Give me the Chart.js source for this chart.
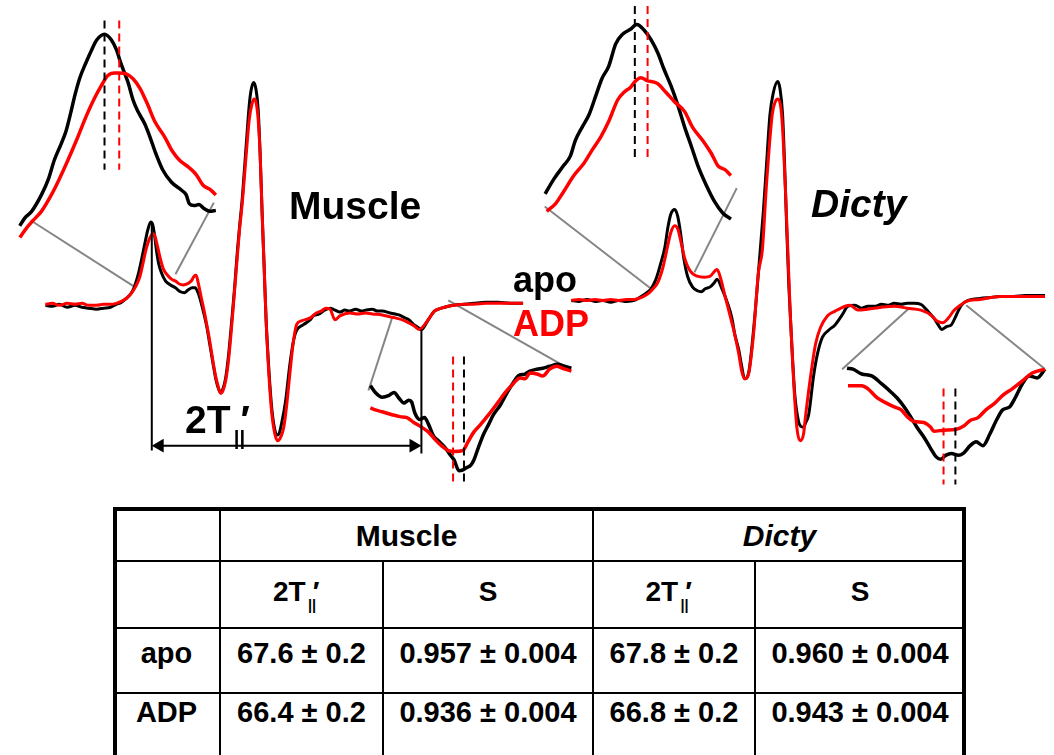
<!DOCTYPE html>
<html>
<head>
<meta charset="utf-8">
<script src="https://cdn.jsdelivr.net/npm/chart.js@4/dist/chart.umd.min.js"></script>
<style>
  html, body { margin: 0; padding: 0; background: #fff; overflow: hidden; width: 1054px; height: 755px; }
  body { position: relative; font-family: "Liberation Sans", Arial, Helvetica, sans-serif; font-weight: bold; color: #000; }
  #spectra { position: absolute; left: 0; top: 0; }
  .lbl { position: absolute; line-height: 1; white-space: nowrap; }
  .rule { position: absolute; background: #000; }
</style>
</head>
<body>
<canvas id="spectra" width="1054" height="505"></canvas>
<div id="overlay"></div>
<script>
// ---- EPR spectra (field offset in G, signal in arbitrary units) ----
// Muscle myosin, full scan
const muscleApo = [[-26.67,-2],[-24.94,-3],[-23.21,-1],[-21.23,-4],[-19.26,-2],[-17.53,-4],[-15.80,-5],[-13.83,-6],[-12.10,-5],[-10.37,-4],[-8.89,-1],[-7.65,1],[-6.42,5],[-5.43,9],[-4.69,14],[-3.95,22],[-3.21,33],[-2.47,47],[-1.73,62],[-0.99,76],[-0.25,84],[0.25,81],[0.74,69],[1.23,53],[1.73,41],[2.47,31],[3.46,23],[4.69,19],[5.93,16],[7.16,12],[8.15,11],[9.14,14],[10.12,16],[10.86,16],[11.60,11],[12.35,1],[13.09,-11],[13.83,-25],[14.57,-43],[15.31,-61],[16.05,-78],[16.79,-89],[17.28,-92],[17.78,-89],[18.52,-77],[19.26,-53],[20.00,-20],[20.74,15],[21.48,55],[21.98,78],[22.72,110],[23.70,165],[24.44,205],[24.94,221],[25.56,228],[26.17,220],[26.67,200],[27.16,155],[27.65,95],[28.15,40],[28.64,-15],[29.38,-70],[30.12,-110],[30.86,-131],[31.36,-136],[31.85,-135],[32.59,-123],[33.58,-100],[34.57,-65],[35.56,-38],[36.30,-28],[38.02,-22],[39.75,-17],[40.49,-13],[41.98,-11],[42.96,-8],[44.69,-5],[45.93,-7],[47.16,-9],[48.40,-7],[49.63,-8],[51.11,-6],[52.59,-8],[53.58,-7],[55.31,-6],[56.54,-8],[57.78,-8],[59.75,-10],[60.99,-11],[61.98,-12],[63.46,-15],[64.44,-17],[65.68,-22],[66.42,-24],[67.65,-27],[68.89,-20],[69.63,-15],[70.86,-8],[72.59,-5],[74.32,-3],[75.80,-2],[78.27,-1],[80.74,0],[83.70,1],[86.67,1],[89.88,0],[93.09,0]];
const muscleAdp = [[-26.67,-1],[-24.94,0],[-23.21,-2],[-21.23,0],[-19.26,-1],[-17.53,0],[-15.80,-2],[-13.83,-2],[-12.10,-1],[-10.37,-1],[-8.89,0],[-7.65,2],[-6.42,5],[-5.19,10],[-3.95,18],[-2.96,28],[-2.22,41],[-1.48,55],[-0.74,65],[0,71],[0.25,72],[0.74,70],[1.48,58],[2.22,45],[2.96,35],[3.95,29],[4.94,25],[5.93,23],[6.91,20],[7.90,19],[8.89,20],[9.88,23],[10.62,28],[11.11,29],[11.60,22],[12.35,7],[13.09,-7],[13.83,-23],[14.57,-40],[15.31,-59],[16.05,-76],[16.79,-88],[17.28,-93],[17.78,-91],[18.52,-80],[19.26,-58],[20.00,-25],[20.74,12],[21.48,50],[21.98,75],[22.72,105],[23.70,155],[24.44,190],[25.19,207],[25.68,211],[26.17,207],[26.67,190],[27.16,155],[27.65,95],[28.15,40],[28.64,-15],[29.38,-75],[30.12,-115],[30.86,-135],[31.60,-142],[32.35,-138],[33.09,-128],[33.83,-105],[34.32,-85],[35.06,-55],[35.56,-38],[36.30,-22],[37.53,-18],[39.75,-15],[41.23,-10],[42.47,-8],[43.70,-5],[44.69,-6],[45.93,-17],[47.16,-13],[49.63,-10],[51.60,-11],[53.58,-10],[55.31,-11],[57.78,-12],[59.75,-14],[60.99,-15],[63.46,-18],[65.68,-23],[67.16,-27],[68.40,-22],[69.63,-15],[70.86,-8],[72.59,-5],[74.32,-3],[75.80,-2],[78.27,-1],[80.74,-1],[83.70,0],[86.67,0],[89.88,0],[93.09,0]];
// Muscle, expanded low-field peak
const muscleApoPeak = [[-4.78,15],[-4.5,23],[-4.11,30],[-3.56,47],[-3.17,63],[-2.83,83],[-2.44,100],[-2.17,113],[-1.89,133],[-1.67,150],[-1.39,168],[-1.06,183],[-0.72,197],[-0.44,207],[0,213],[0.39,207],[0.67,197],[0.94,182],[1.33,163],[1.61,145],[1.89,133],[2.28,120],[2.56,107],[2.89,90],[3.28,73],[3.78,60],[4.33,52],[4.61,47],[4.78,38],[5.06,36],[5.33,37],[5.61,33],[5.94,30],[6.28,31]];
const muscleAdpPeak = [[-4.78,3],[-4.39,13],[-4.06,20],[-3.56,30],[-3,47],[-2.56,63],[-2.06,83],[-1.5,107],[-1.06,127],[-0.56,147],[-0.17,160],[0.17,170],[0.56,173],[0.83,173],[1.22,172],[1.61,167],[2,157],[2.44,140],[2.83,123],[3.39,107],[3.83,92],[4.22,83],[4.78,75],[5.17,68],[5.56,57],[6,52],[6.28,47]];
// Muscle, expanded high-field trough
const muscleApoHigh = [[-6.79,10],[-6.43,3],[-5.93,-2],[-5.43,0],[-5.07,3],[-4.71,-3],[-4.36,-8],[-4,-5],[-3.79,-7],[-3.57,-18],[-3.21,-25],[-2.86,-23],[-2.57,-30],[-2.21,-42],[-1.86,-47],[-1.43,-53],[-1.07,-60],[-0.71,-67],[-0.36,-78],[-0.07,-77],[0.14,-75],[0.5,-72],[0.71,-67],[1.07,-53],[1.43,-40],[1.79,-30],[2.14,-20],[2.64,-10],[3.14,3],[3.57,13],[3.93,20],[4.43,22],[4.79,25],[5.29,27],[5.71,28],[6.21,30],[6.79,32],[7.29,30],[7.79,28]];
const muscleAdpHigh = [[-6.79,-13],[-6.43,-15],[-5.93,-17],[-5.21,-20],[-4.64,-22],[-4.14,-23],[-3.64,-28],[-3.07,-33],[-2.57,-38],[-2.14,-45],[-1.64,-52],[-1.14,-57],[-0.71,-58],[-0.07,-57],[0.29,-48],[0.71,-38],[1.21,-30],[1.79,-20],[2.43,-8],[3,3],[3.57,12],[4.07,18],[4.43,17],[4.79,23],[5.29,22],[5.71,20],[6.21,27],[6.71,30],[7.14,28],[7.79,25]];

// Dicty myosin, full scan
const dictyApo = [[-26.25,0],[-24.25,-1],[-22.25,1],[-20.25,-1],[-18.25,0],[-16.25,-2],[-14.25,0],[-12.25,-1],[-10.25,0],[-8.5,4],[-6.75,9],[-6,12],[-4.75,22],[-3.5,39],[-2.5,55],[-1.75,75],[-1,89],[0,94],[0.75,87],[1.5,69],[2.25,45],[3.25,25],[4.5,14],[5.75,10],[6.75,9],[7.75,12],[9,14],[10,18],[10.75,22],[12,12],[13.25,-1],[14.5,-18],[15.25,-35],[16.25,-51],[17,-68],[17.75,-81],[18.75,-75],[20,-31],[21.25,29],[22.5,92],[23.25,137],[24.18,192],[25,214],[26.15,226],[26.75,218],[27.38,192],[27.88,142],[28.45,72],[29,12],[29.75,-48],[30.5,-98],[31.43,-125],[32,-130],[32.7,-131],[33.25,-126],[34,-118],[35.25,-78],[36.25,-55],[37.5,-38],[39,-31],[40.75,-25],[42.5,-15],[44,-6],[45.75,-5],[47.5,-8],[49,-6],[50.75,-6],[52.5,-4],[54,-5],[55.75,-3],[57.5,-4],[59,-3],[60.75,-3],[62.5,-4],[64,-10],[65.75,-18],[67,-26],[67.75,-30],[69,-27],[70.25,-25],[71.5,-15],[72.75,-5],[74.5,0],[77.5,2],[80,3],[82.5,4],[86,4],[89,5],[94,5]];
const dictyAdp = [[-26.25,0],[-24.25,1],[-22.25,0],[-20.25,1],[-18.25,0],[-16.25,1],[-14.25,0],[-12.25,1],[-10.25,1],[-9.25,2],[-8,4],[-6.75,7],[-5.5,12],[-4.25,19],[-3,34],[-1.75,57],[-1,70],[0,77],[0.75,74],[1.5,62],[2.5,44],[4,30],[5.75,25],[7.5,24],[9,25],[10.75,32],[11.5,25],[12.75,5],[14,-15],[15,-31],[16.25,-55],[17,-73],[17.75,-81],[18.75,-76],[20,-35],[21.25,29],[22.25,52],[23.25,117],[24.75,192],[25.5,205],[26.25,208],[27,197],[27.5,169],[28.13,112],[28.7,52],[29.38,-18],[30.15,-81],[31,-131],[31.85,-145],[32.7,-138],[33.25,-118],[34.5,-78],[35.75,-45],[37,-28],[38.75,-16],[40.75,-11],[43.25,-6],[44.5,-5],[46.5,-10],[49,-9],[52.5,-7],[55.75,-6],[59,-8],[62.5,-10],[65,-15],[66.5,-21],[68,-23],[69.5,-18],[70.75,-11],[72.5,-5],[74,-1],[77.5,1],[82.5,4],[89,4],[94,4]];
// Dicty, expanded low-field peak
const dictyApoPeak = [[-5.06,38],[-4.58,53],[-4.03,67],[-3.64,77],[-3.36,93],[-2.97,107],[-2.58,120],[-2.19,140],[-1.86,157],[-1.47,170],[-1.08,193],[-0.69,203],[-0.25,208],[0.11,213],[0.53,207],[0.92,197],[1.31,183],[1.64,167],[2.03,150],[2.42,130],[2.81,107],[3.19,87],[3.56,67],[4.03,47],[4.5,30],[4.97,18],[5.42,12]];
const dictyAdpPeak = [[-4.97,20],[-4.47,28],[-4.03,40],[-3.44,57],[-2.86,70],[-2.42,83],[-1.92,97],[-1.47,113],[-0.97,135],[-0.61,143],[-0.25,148],[0.06,155],[0.34,158],[0.69,155],[1.28,152],[1.75,143],[2.25,133],[2.81,123],[3.25,107],[3.84,93],[4.31,80],[4.69,67],[5.08,63],[5.42,57]];
// Dicty, expanded high-field trough
const dictyApoHigh = [[-7.86,28],[-7.43,27],[-6.79,22],[-6.07,20],[-5.36,12],[-4.64,3],[-4.21,-3],[-3.71,-12],[-3.21,-23],[-2.79,-33],[-2.29,-43],[-1.79,-55],[-1.43,-63],[-1.07,-66],[-0.71,-62],[-0.29,-60],[0.21,-62],[0.57,-60],[1.07,-52],[1.5,-48],[2,-52],[2.5,-40],[2.93,-27],[3.43,-15],[3.93,-12],[4.36,-2],[4.86,12],[5.36,20],[5.93,18],[6.5,27]];
const dictyAdpHigh = [[-7.79,10],[-6.79,10],[-6.36,7],[-5.64,-3],[-5,-8],[-4.43,-12],[-3.93,-15],[-3.5,-22],[-3,-27],[-2.29,-28],[-1.79,-33],[-1.57,-37],[-0.86,-36],[0.07,-35],[0.57,-32],[1.07,-26],[1.64,-23],[2.21,-15],[2.86,-8],[3.43,0],[4.14,7],[4.86,15],[5.57,23],[6.5,27]];

// Extremum positions in the expanded views [apo, ADP] and the span of their marker lines
const musclePeakPos = [0, 0.83], musclePeakSpan = [227, 73];
const muscleHighPos = [0, -0.79], muscleHighSpan = [40, -90];
const dictyPeakPos = [0, 0.72], dictyPeakSpan = [232, 75];
const dictyHighPos = [0, -0.86], dictyHighSpan = [7, -92];

// Guides from each spectrum to its expanded views (spectrum units)
const muscleLinks = [[[-4.69,18],[-30.12,85]], [[5.93,30],[15.56,104]], [[60.25,-15],[54.32,-90]], [[74.32,3],[102.22,-62]]];
const dictyLinks = [[[-6,12],[-33,97]], [[5,29],[15.75,116]], [[59.5,-8],[42.5,-71]], [[74,-5],[93.75,-70]]];

// Table values
const conditions = ['apo', 'ADP'];
const muscle2T = [67.6, 66.4];
const muscleS = [0.957, 0.936];
const dicty2T = [67.8, 66.8];
const dictyS = [0.960, 0.943];
const err2T = 0.2;
const errS = 0.004;

// 2T|| arrow on the muscle spectrum
const arrowLevel = -147;
const peakTop = 84, troughTop = -27, leftFoot = -152, rightFoot = -155;

// ---- layout of the spectra canvas ----
const W = 1054, H = 505;
function axisX(px0, pxPerG) { return { type: 'linear', axis: 'x', position: 'bottom', display: false, min: -px0 / pxPerG, max: (W - px0) / pxPerG }; }
function axisY(py0) { return { type: 'linear', axis: 'y', position: 'left', display: false, min: py0 - H, max: py0 }; }

const RED = '#ff0000', BLACK = '#000000', GREY = '#858585';

function curve(data, color, ax, width, order) {
  return { data: data.map(([x, y]) => ({ x, y })), borderColor: color, backgroundColor: color, borderWidth: width,
    pointRadius: 0, showLine: true, fill: false, cubicInterpolationMode: 'monotone',
    xAxisID: ax[0], yAxisID: ax[1], order, clip: false };
}
function segment(pts, color, width, dash, ax, order) {
  return { data: pts.map(([x, y]) => ({ x, y })), borderColor: color, borderWidth: width, borderDash: dash,
    pointRadius: 0, showLine: true, fill: false, tension: 0, xAxisID: ax[0], yAxisID: ax[1], order, clip: false };
}
function markers(pos, span, ax) {
  return [
    segment([[pos[0], span[0]], [pos[0], span[1]]], BLACK, 2, [8, 5], ax, 0),
    segment([[pos[1], span[0]], [pos[1], span[1]]], RED, 2, [8, 5], ax, 0)
  ];
}

const M = ['mx', 'my'], MP = ['mpx', 'mpy'], MH = ['mhx', 'mhy'];
const D = ['dx', 'dy'], DP = ['dpx', 'dpy'], DH = ['dhx', 'dhy'];

const datasets = [];
muscleLinks.forEach(l => datasets.push(segment(l, GREY, 2, [], M, 6)));
dictyLinks.forEach(l => datasets.push(segment(l, GREY, 2, [], D, 6)));
datasets.push(curve(muscleApo, BLACK, M, 3, 3), curve(muscleAdp, RED, M, 3, 2));
datasets.push(curve(dictyApo, BLACK, D, 3, 3), curve(dictyAdp, RED, D, 3, 2));
datasets.push(curve(muscleApoPeak, BLACK, MP, 3.5, 3), curve(muscleAdpPeak, RED, MP, 3.5, 2));
datasets.push(curve(muscleApoHigh, BLACK, MH, 3.5, 3), curve(muscleAdpHigh, RED, MH, 3.5, 2));
datasets.push(curve(dictyApoPeak, BLACK, DP, 3.5, 3), curve(dictyAdpPeak, RED, DP, 3.5, 2));
datasets.push(curve(dictyApoHigh, BLACK, DH, 3.5, 3), curve(dictyAdpHigh, RED, DH, 3.5, 2));
datasets.push(...markers(musclePeakPos, musclePeakSpan, MP), ...markers(muscleHighPos, muscleHighSpan, MH));
datasets.push(...markers(dictyPeakPos, dictyPeakSpan, DP), ...markers(dictyHighPos, dictyHighSpan, DH));

// 2T|| splitting: verticals at the outer extrema and a double arrow between them
const split = muscle2T[0];
const headR = 8, headG = headR / 4.05;
datasets.push(segment([[0, peakTop], [0, leftFoot]], BLACK, 2, [], M, 1));
datasets.push(segment([[split, troughTop], [split, rightFoot]], BLACK, 2, [], M, 1));
datasets.push(segment([[headG, arrowLevel], [split - headG, arrowLevel]], BLACK, 2, [], M, 1));
datasets.push({ data: [{ x: headG, y: arrowLevel }, { x: split - headG, y: arrowLevel }], showLine: false,
  pointStyle: 'triangle', pointRadius: headR, pointRotation: [-90, 90], pointBackgroundColor: BLACK,
  pointBorderColor: BLACK, pointBorderWidth: 0, xAxisID: 'mx', yAxisID: 'my', order: 1, clip: false });

new Chart(document.getElementById('spectra'), {
  type: 'scatter',
  data: { datasets },
  options: {
    responsive: false, animation: false, devicePixelRatio: 1, events: [],
    layout: { padding: 0 },
    plugins: { legend: { display: false }, tooltip: { enabled: false }, title: { display: false } },
    scales: {
      x: { display: false }, y: { display: false },
      mx: axisX(146, 4.05), my: axisY(305),
      mpx: axisX(98, 18), mpy: axisY(240),
      mhx: axisX(463, 14), mhy: axisY(400),
      dx: axisX(677, 4), dy: axisY(302),
      dpx: axisX(636.5, 18), dpy: axisY(230),
      dhx: axisX(962, 14), dhy: axisY(400)
    }
  }
});

// ---- text and table ----
const overlay = document.getElementById('overlay');
function text(str, left, top, size, extra) {
  const d = document.createElement('div');
  d.className = 'lbl';
  d.textContent = str;
  Object.assign(d.style, { left: left + 'px', top: top + 'px', fontSize: size + 'px' }, extra || {});
  overlay.appendChild(d);
  return d;
}
function centered(str, cx, cy, size, extra) {
  return text(str, cx - 150, cy - size / 2, size, Object.assign({ width: '300px', textAlign: 'center' }, extra || {}));
}
function tParallel(left, baseline, F) {
  const d = document.createElement('div');
  d.className = 'lbl';
  Object.assign(d.style, { left: left + 'px', top: (baseline - 0.8465 * F) + 'px', fontSize: F + 'px' });
  d.appendChild(document.createTextNode('2T'));
  const sub = document.createElement('span');
  sub.textContent = '||';
  Object.assign(sub.style, { position: 'absolute', left: (1.25 * F) + 'px', top: (0.709 * F) + 'px', fontSize: (0.52 * F) + 'px', lineHeight: '1' });
  const pr = document.createElement('span');
  pr.textContent = '\u2032';
  Object.assign(pr.style, { position: 'absolute', left: (1.42 * F) + 'px', top: '0px', fontSize: F + 'px', lineHeight: '1' });
  d.appendChild(sub); d.appendChild(pr);
  overlay.appendChild(d);
}
function rule(l, t, w, h) {
  const r = document.createElement('div');
  r.className = 'rule';
  Object.assign(r.style, { left: l + 'px', top: t + 'px', width: w + 'px', height: h + 'px' });
  overlay.appendChild(r);
}

text('Muscle', 289, 186, 39);
text('Dicty', 811, 184, 39, { fontStyle: 'italic' });
text('apo', 513, 262, 36);
text('ADP', 513, 306, 36, { color: RED });
tParallel(185, 433, 39);

// table grid
rule(113, 507, 4, 260); rule(113, 507, 853, 4); rule(962, 507, 4, 260);
[560, 627, 692].forEach(y => rule(117, y, 845, 2));
rule(219, 511, 2, 260); rule(592, 511, 2, 260);
rule(382, 562, 2, 260); rule(754, 562, 2, 260);

const colCenters = [166.5, 301.5, 488, 674, 860];
centered('Muscle', 406.5, 536, 30);
centered('Dicty', 779.5, 536, 30, { fontStyle: 'italic' });
const headF = 28;
tParallel(colCenters[1] - 1.02 * headF, 602, headF);
tParallel(colCenters[3] - 1.02 * headF, 602, headF);
centered('S', colCenters[2], 592, headF);
centered('S', colCenters[4], 592, headF);

const rowCenters = [653, 712.5];
conditions.forEach((c, i) => {
  const cy = rowCenters[i];
  centered(c, colCenters[0], cy, 29);
  centered(muscle2T[i].toFixed(1) + ' \u00b1 ' + err2T.toFixed(1), colCenters[1], cy, 29);
  centered(muscleS[i].toFixed(3) + ' \u00b1 ' + errS.toFixed(3), colCenters[2], cy, 29);
  centered(dicty2T[i].toFixed(1) + ' \u00b1 ' + err2T.toFixed(1), colCenters[3], cy, 29);
  centered(dictyS[i].toFixed(3) + ' \u00b1 ' + errS.toFixed(3), colCenters[4], cy, 29);
});
</script>
</body>
</html>
